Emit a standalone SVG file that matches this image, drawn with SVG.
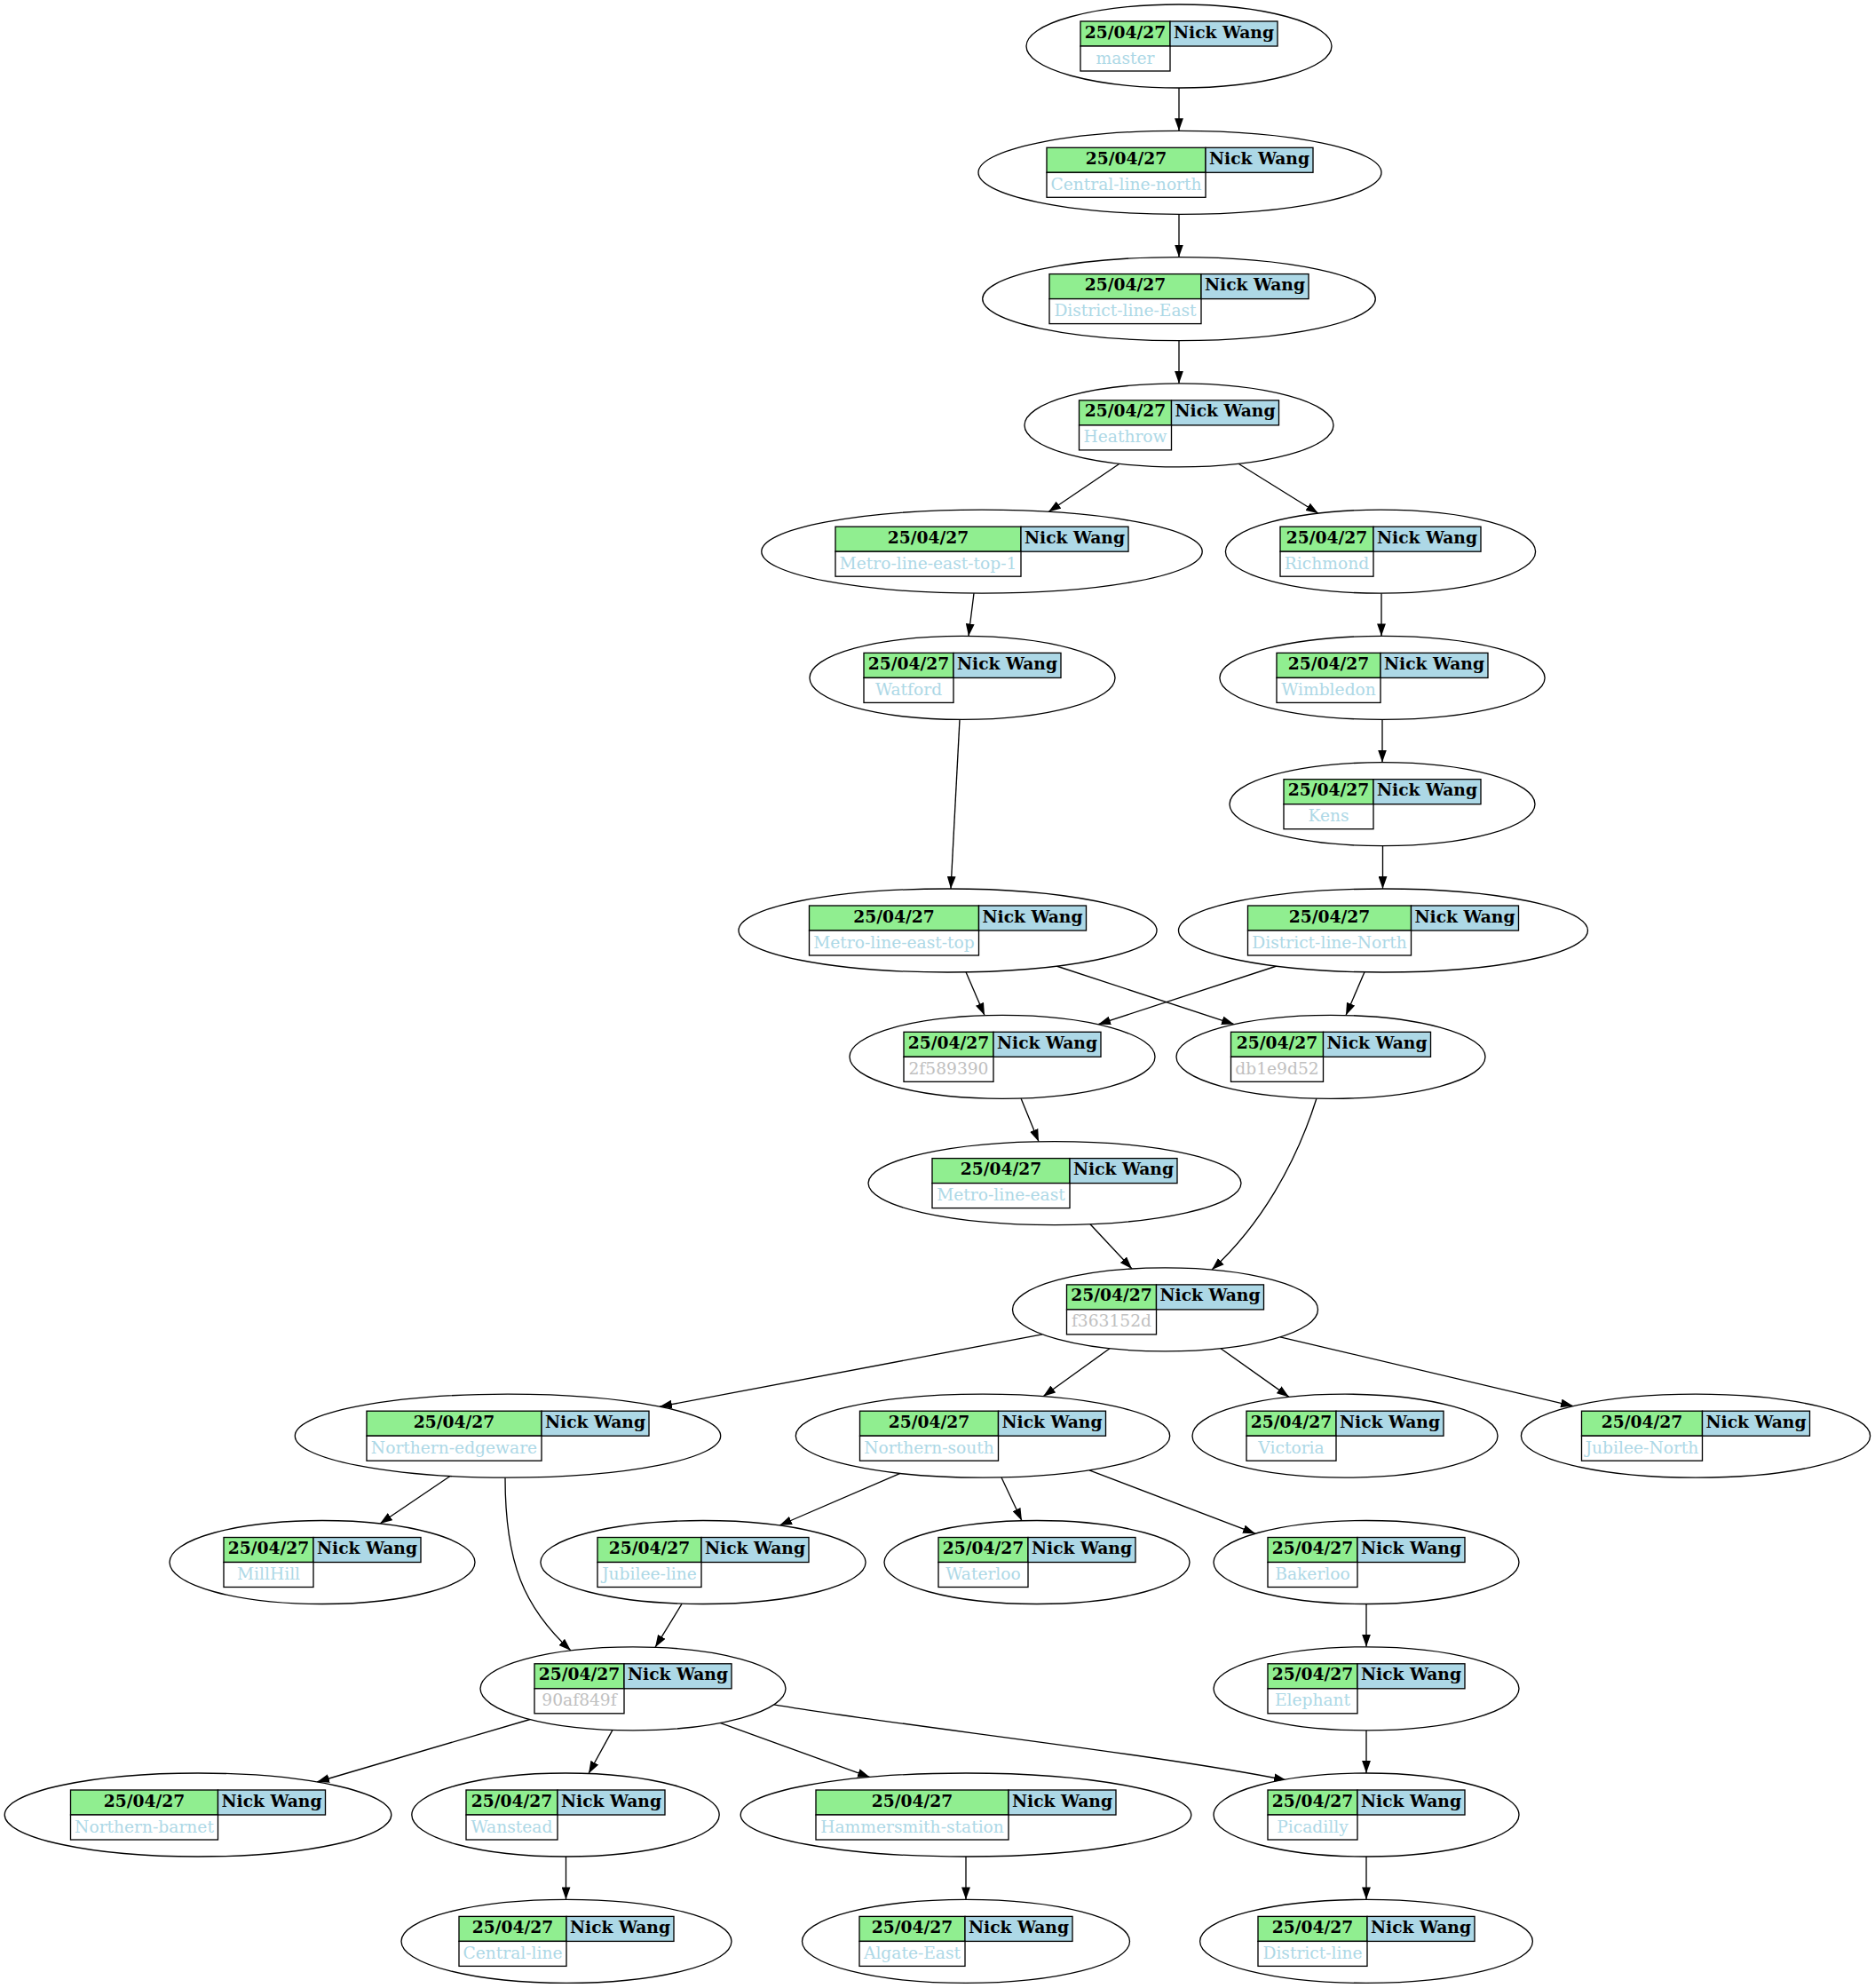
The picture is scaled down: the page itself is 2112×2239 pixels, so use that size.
<svg xmlns="http://www.w3.org/2000/svg" width="2112" height="2239" viewBox="0 0 2112 2239">
<style>
.e{fill:#fff;stroke:#000;stroke-width:1.33}
.cd{fill:#90ee90;stroke:#000;stroke-width:1.33}
.cn{fill:#add8e6;stroke:#000;stroke-width:1.33}
.cl{fill:#fff;stroke:#000;stroke-width:1.33}
text{font-family:"DejaVu Serif","Liberation Serif",serif;font-size:18.67px;text-anchor:middle}
.h{font-weight:bold;fill:#000}
.b{fill:#add8e6}
.g{fill:#c0c0c0}
.ed{fill:none;stroke:#000;stroke-width:1.33;marker-end:url(#a)}
</style>
<defs>
<marker id="a" markerUnits="userSpaceOnUse" markerWidth="14" markerHeight="10" refX="13.3" refY="4.67" orient="auto" viewBox="0 0 13.3 9.34"><path d="M0,0 L13.3,4.67 L0,9.34 z" fill="#000"/></marker>
</defs>
<rect width="2112" height="2239" fill="#fff"/>
<g id="edges">
<path class="ed" d="M1328,99 L1328,147.3"/>
<path class="ed" d="M1328,241.3 L1328,289.6"/>
<path class="ed" d="M1328,383.6 L1328,431.9"/>
<path class="ed" d="M1261,522.3 L1181,576.5"/>
<path class="ed" d="M1395,522.3 L1485,578.2"/>
<path class="ed" d="M1097,668 L1091,716.5"/>
<path class="ed" d="M1556,668.2 L1556,716.4"/>
<path class="ed" d="M1081,810.4 L1071,1001"/>
<path class="ed" d="M1557,810.4 L1557,858.7"/>
<path class="ed" d="M1557.5,952.7 L1557.5,1001"/>
<path class="ed" d="M1088,1094.8 L1109,1143.6"/>
<path class="ed" d="M1190,1088 L1390,1153.6"/>
<path class="ed" d="M1438,1088 L1237,1153.7"/>
<path class="ed" d="M1537,1094.8 L1516,1143.5"/>
<path class="ed" d="M1150,1237 L1170,1285.8"/>
<path class="ed" d="M1228,1378.7 L1275,1429"/>
<path class="ed" d="M1483,1237 C1460,1310 1420,1380 1365,1430.1"/>
<path class="ed" d="M1174,1502.8 L743,1584.2"/>
<path class="ed" d="M1250,1518.7 L1175,1572.7"/>
<path class="ed" d="M1375,1518.7 L1452,1573.4"/>
<path class="ed" d="M1442,1505.8 L1772,1583.6"/>
<path class="ed" d="M507,1662.5 L428,1716"/>
<path class="ed" d="M569,1664.2 C569,1760 590,1810 643,1858.9"/>
<path class="ed" d="M1014,1659.4 L878,1718"/>
<path class="ed" d="M1128,1664 L1151,1712.7"/>
<path class="ed" d="M1227,1655.8 L1414,1727.2"/>
<path class="ed" d="M1539,1806.5 L1539,1854.8"/>
<path class="ed" d="M768,1806.4 L738,1855.3"/>
<path class="ed" d="M597,1936.5 L357,2007"/>
<path class="ed" d="M690,1948.4 L663,1997.5"/>
<path class="ed" d="M811,1940.4 L980,2001.7"/>
<path class="ed" d="M872,1919.8 C1000,1942 1300,1975 1449,2005"/>
<path class="ed" d="M1539,1948.8 L1539,1997"/>
<path class="ed" d="M637.5,2091 L637.5,2139.4"/>
<path class="ed" d="M1088,2091 L1088,2139.4"/>
<path class="ed" d="M1539,2091 L1539,2139.4"/>
</g>
<g id="master"><ellipse class="e" cx="1328" cy="52" rx="172" ry="47"/><rect class="cd" x="1217" y="24" width="101" height="28"/><rect class="cn" x="1318" y="24" width="121" height="28"/><rect class="cl" x="1217" y="52" width="101" height="28"/><text class="h" x="1267.5" y="42.5">25/04/27</text><text class="h" x="1378.5" y="42.5">Nick Wang</text><text class="b" x="1267.5" y="71.5">master</text></g>
<g id="central-line-north"><ellipse class="e" cx="1329" cy="194.3" rx="227" ry="47"/><rect class="cd" x="1179" y="166.3" width="179" height="28"/><rect class="cn" x="1358" y="166.3" width="121" height="28"/><rect class="cl" x="1179" y="194.3" width="179" height="28"/><text class="h" x="1268.5" y="184.8">25/04/27</text><text class="h" x="1418.5" y="184.8">Nick Wang</text><text class="b" x="1268.5" y="213.8">Central-line-north</text></g>
<g id="district-line-east"><ellipse class="e" cx="1328" cy="336.6" rx="221.3" ry="47"/><rect class="cd" x="1182" y="308.6" width="171" height="28"/><rect class="cn" x="1353" y="308.6" width="121" height="28"/><rect class="cl" x="1182" y="336.6" width="171" height="28"/><text class="h" x="1267.5" y="327.1">25/04/27</text><text class="h" x="1413.5" y="327.1">Nick Wang</text><text class="b" x="1267.5" y="356.1">District-line-East</text></g>
<g id="heathrow"><ellipse class="e" cx="1328" cy="478.9" rx="174" ry="47"/><rect class="cd" x="1215.5" y="450.9" width="104" height="28"/><rect class="cn" x="1319.5" y="450.9" width="121" height="28"/><rect class="cl" x="1215.5" y="478.9" width="104" height="28"/><text class="h" x="1267.5" y="469.4">25/04/27</text><text class="h" x="1380" y="469.4">Nick Wang</text><text class="b" x="1267.5" y="498.4">Heathrow</text></g>
<g id="metro-line-east-top-1"><ellipse class="e" cx="1106" cy="621.2" rx="248.2" ry="47"/><rect class="cd" x="941" y="593.2" width="209" height="28"/><rect class="cn" x="1150" y="593.2" width="121" height="28"/><rect class="cl" x="941" y="621.2" width="209" height="28"/><text class="h" x="1045.5" y="611.7">25/04/27</text><text class="h" x="1210.5" y="611.7">Nick Wang</text><text class="b" x="1045.5" y="640.7">Metro-line-east-top-1</text></g>
<g id="richmond"><ellipse class="e" cx="1555" cy="621.2" rx="174.6" ry="47"/><rect class="cd" x="1442" y="593.2" width="105" height="28"/><rect class="cn" x="1547" y="593.2" width="121" height="28"/><rect class="cl" x="1442" y="621.2" width="105" height="28"/><text class="h" x="1494.5" y="611.7">25/04/27</text><text class="h" x="1607.5" y="611.7">Nick Wang</text><text class="b" x="1494.5" y="640.7">Richmond</text></g>
<g id="watford"><ellipse class="e" cx="1084" cy="763.4" rx="172" ry="47"/><rect class="cd" x="973" y="735.4" width="101" height="28"/><rect class="cn" x="1074" y="735.4" width="121" height="28"/><rect class="cl" x="973" y="763.4" width="101" height="28"/><text class="h" x="1023.5" y="753.9">25/04/27</text><text class="h" x="1134.5" y="753.9">Nick Wang</text><text class="b" x="1023.5" y="782.9">Watford</text></g>
<g id="wimbledon"><ellipse class="e" cx="1557" cy="763.4" rx="183.1" ry="47"/><rect class="cd" x="1438" y="735.4" width="117" height="28"/><rect class="cn" x="1555" y="735.4" width="121" height="28"/><rect class="cl" x="1438" y="763.4" width="117" height="28"/><text class="h" x="1496.5" y="753.9">25/04/27</text><text class="h" x="1615.5" y="753.9">Nick Wang</text><text class="b" x="1496.5" y="782.9">Wimbledon</text></g>
<g id="kens"><ellipse class="e" cx="1557" cy="905.7" rx="172" ry="47"/><rect class="cd" x="1446" y="877.7" width="101" height="28"/><rect class="cn" x="1547" y="877.7" width="121" height="28"/><rect class="cl" x="1446" y="905.7" width="101" height="28"/><text class="h" x="1496.5" y="896.2">25/04/27</text><text class="h" x="1607.5" y="896.2">Nick Wang</text><text class="b" x="1496.5" y="925.2">Kens</text></g>
<g id="metro-line-east-top"><ellipse class="e" cx="1067.5" cy="1048" rx="235.5" ry="47"/><rect class="cd" x="911.5" y="1020" width="191" height="28"/><rect class="cn" x="1102.5" y="1020" width="121" height="28"/><rect class="cl" x="911.5" y="1048" width="191" height="28"/><text class="h" x="1007" y="1038.5">25/04/27</text><text class="h" x="1163" y="1038.5">Nick Wang</text><text class="b" x="1007" y="1067.5">Metro-line-east-top</text></g>
<g id="district-line-north"><ellipse class="e" cx="1558" cy="1048" rx="230.5" ry="47"/><rect class="cd" x="1405.5" y="1020" width="184" height="28"/><rect class="cn" x="1589.5" y="1020" width="121" height="28"/><rect class="cl" x="1405.5" y="1048" width="184" height="28"/><text class="h" x="1497.5" y="1038.5">25/04/27</text><text class="h" x="1650" y="1038.5">Nick Wang</text><text class="b" x="1497.5" y="1067.5">District-line-North</text></g>
<g id="c2f589390"><ellipse class="e" cx="1129" cy="1190.3" rx="172" ry="47"/><rect class="cd" x="1018" y="1162.3" width="101" height="28"/><rect class="cn" x="1119" y="1162.3" width="121" height="28"/><rect class="cl" x="1018" y="1190.3" width="101" height="28"/><text class="h" x="1068.5" y="1180.8">25/04/27</text><text class="h" x="1179.5" y="1180.8">Nick Wang</text><text class="g" x="1068.5" y="1209.8">2f589390</text></g>
<g id="db1e9d52"><ellipse class="e" cx="1499" cy="1190.3" rx="174" ry="47"/><rect class="cd" x="1386.5" y="1162.3" width="104" height="28"/><rect class="cn" x="1490.5" y="1162.3" width="121" height="28"/><rect class="cl" x="1386.5" y="1190.3" width="104" height="28"/><text class="h" x="1438.5" y="1180.8">25/04/27</text><text class="h" x="1551" y="1180.8">Nick Wang</text><text class="g" x="1438.5" y="1209.8">db1e9d52</text></g>
<g id="metro-line-east"><ellipse class="e" cx="1188" cy="1332.6" rx="210" ry="47"/><rect class="cd" x="1050" y="1304.6" width="155" height="28"/><rect class="cn" x="1205" y="1304.6" width="121" height="28"/><rect class="cl" x="1050" y="1332.6" width="155" height="28"/><text class="h" x="1127.5" y="1323.1">25/04/27</text><text class="h" x="1265.5" y="1323.1">Nick Wang</text><text class="b" x="1127.5" y="1352.1">Metro-line-east</text></g>
<g id="f363152d"><ellipse class="e" cx="1312.5" cy="1474.9" rx="172" ry="47"/><rect class="cd" x="1201.5" y="1446.9" width="101" height="28"/><rect class="cn" x="1302.5" y="1446.9" width="121" height="28"/><rect class="cl" x="1201.5" y="1474.9" width="101" height="28"/><text class="h" x="1252" y="1465.4">25/04/27</text><text class="h" x="1363" y="1465.4">Nick Wang</text><text class="g" x="1252" y="1494.4">f363152d</text></g>
<g id="northern-edgeware"><ellipse class="e" cx="572" cy="1617.2" rx="239.7" ry="47"/><rect class="cd" x="413" y="1589.2" width="197" height="28"/><rect class="cn" x="610" y="1589.2" width="121" height="28"/><rect class="cl" x="413" y="1617.2" width="197" height="28"/><text class="h" x="511.5" y="1607.7">25/04/27</text><text class="h" x="670.5" y="1607.7">Nick Wang</text><text class="b" x="511.5" y="1636.7">Northern-edgeware</text></g>
<g id="northern-south"><ellipse class="e" cx="1107" cy="1617.2" rx="210.7" ry="47"/><rect class="cd" x="968.5" y="1589.2" width="156" height="28"/><rect class="cn" x="1124.5" y="1589.2" width="121" height="28"/><rect class="cl" x="968.5" y="1617.2" width="156" height="28"/><text class="h" x="1046.5" y="1607.7">25/04/27</text><text class="h" x="1185" y="1607.7">Nick Wang</text><text class="b" x="1046.5" y="1636.7">Northern-south</text></g>
<g id="victoria"><ellipse class="e" cx="1515" cy="1617.2" rx="172" ry="47"/><rect class="cd" x="1404" y="1589.2" width="101" height="28"/><rect class="cn" x="1505" y="1589.2" width="121" height="28"/><rect class="cl" x="1404" y="1617.2" width="101" height="28"/><text class="h" x="1454.5" y="1607.7">25/04/27</text><text class="h" x="1565.5" y="1607.7">Nick Wang</text><text class="b" x="1454.5" y="1636.7">Victoria</text></g>
<g id="jubilee-north"><ellipse class="e" cx="1910" cy="1617.2" rx="196.6" ry="47"/><rect class="cd" x="1781.5" y="1589.2" width="136" height="28"/><rect class="cn" x="1917.5" y="1589.2" width="121" height="28"/><rect class="cl" x="1781.5" y="1617.2" width="136" height="28"/><text class="h" x="1849.5" y="1607.7">25/04/27</text><text class="h" x="1978" y="1607.7">Nick Wang</text><text class="b" x="1849.5" y="1636.7">Jubilee-North</text></g>
<g id="millhill"><ellipse class="e" cx="363" cy="1759.5" rx="172" ry="47"/><rect class="cd" x="252" y="1731.5" width="101" height="28"/><rect class="cn" x="353" y="1731.5" width="121" height="28"/><rect class="cl" x="252" y="1759.5" width="101" height="28"/><text class="h" x="302.5" y="1750">25/04/27</text><text class="h" x="413.5" y="1750">Nick Wang</text><text class="b" x="302.5" y="1779">MillHill</text></g>
<g id="jubilee-line"><ellipse class="e" cx="792" cy="1759.5" rx="183.1" ry="47"/><rect class="cd" x="673" y="1731.5" width="117" height="28"/><rect class="cn" x="790" y="1731.5" width="121" height="28"/><rect class="cl" x="673" y="1759.5" width="117" height="28"/><text class="h" x="731.5" y="1750">25/04/27</text><text class="h" x="850.5" y="1750">Nick Wang</text><text class="b" x="731.5" y="1779">Jubilee-line</text></g>
<g id="waterloo"><ellipse class="e" cx="1168" cy="1759.5" rx="172" ry="47"/><rect class="cd" x="1057" y="1731.5" width="101" height="28"/><rect class="cn" x="1158" y="1731.5" width="121" height="28"/><rect class="cl" x="1057" y="1759.5" width="101" height="28"/><text class="h" x="1107.5" y="1750">25/04/27</text><text class="h" x="1218.5" y="1750">Nick Wang</text><text class="b" x="1107.5" y="1779">Waterloo</text></g>
<g id="bakerloo"><ellipse class="e" cx="1539" cy="1759.5" rx="172" ry="47"/><rect class="cd" x="1428" y="1731.5" width="101" height="28"/><rect class="cn" x="1529" y="1731.5" width="121" height="28"/><rect class="cl" x="1428" y="1759.5" width="101" height="28"/><text class="h" x="1478.5" y="1750">25/04/27</text><text class="h" x="1589.5" y="1750">Nick Wang</text><text class="b" x="1478.5" y="1779">Bakerloo</text></g>
<g id="c90af849f"><ellipse class="e" cx="713" cy="1901.8" rx="172" ry="47"/><rect class="cd" x="602" y="1873.8" width="101" height="28"/><rect class="cn" x="703" y="1873.8" width="121" height="28"/><rect class="cl" x="602" y="1901.8" width="101" height="28"/><text class="h" x="652.5" y="1892.3">25/04/27</text><text class="h" x="763.5" y="1892.3">Nick Wang</text><text class="g" x="652.5" y="1921.3">90af849f</text></g>
<g id="elephant"><ellipse class="e" cx="1539" cy="1901.8" rx="172" ry="47"/><rect class="cd" x="1428" y="1873.8" width="101" height="28"/><rect class="cn" x="1529" y="1873.8" width="121" height="28"/><rect class="cl" x="1428" y="1901.8" width="101" height="28"/><text class="h" x="1478.5" y="1892.3">25/04/27</text><text class="h" x="1589.5" y="1892.3">Nick Wang</text><text class="b" x="1478.5" y="1921.3">Elephant</text></g>
<g id="northern-barnet"><ellipse class="e" cx="223" cy="2044" rx="217.8" ry="47"/><rect class="cd" x="79.5" y="2016" width="166" height="28"/><rect class="cn" x="245.5" y="2016" width="121" height="28"/><rect class="cl" x="79.5" y="2044" width="166" height="28"/><text class="h" x="162.5" y="2034.5">25/04/27</text><text class="h" x="306" y="2034.5">Nick Wang</text><text class="b" x="162.5" y="2063.5">Northern-barnet</text></g>
<g id="wanstead"><ellipse class="e" cx="637" cy="2044" rx="173.2" ry="47"/><rect class="cd" x="525" y="2016" width="103" height="28"/><rect class="cn" x="628" y="2016" width="121" height="28"/><rect class="cl" x="525" y="2044" width="103" height="28"/><text class="h" x="576.5" y="2034.5">25/04/27</text><text class="h" x="688.5" y="2034.5">Nick Wang</text><text class="b" x="576.5" y="2063.5">Wanstead</text></g>
<g id="hammersmith-station"><ellipse class="e" cx="1088" cy="2044" rx="253.8" ry="47"/><rect class="cd" x="919" y="2016" width="217" height="28"/><rect class="cn" x="1136" y="2016" width="121" height="28"/><rect class="cl" x="919" y="2044" width="217" height="28"/><text class="h" x="1027.5" y="2034.5">25/04/27</text><text class="h" x="1196.5" y="2034.5">Nick Wang</text><text class="b" x="1027.5" y="2063.5">Hammersmith-station</text></g>
<g id="picadilly"><ellipse class="e" cx="1539" cy="2044" rx="172" ry="47"/><rect class="cd" x="1428" y="2016" width="101" height="28"/><rect class="cn" x="1529" y="2016" width="121" height="28"/><rect class="cl" x="1428" y="2044" width="101" height="28"/><text class="h" x="1478.5" y="2034.5">25/04/27</text><text class="h" x="1589.5" y="2034.5">Nick Wang</text><text class="b" x="1478.5" y="2063.5">Picadilly</text></g>
<g id="central-line"><ellipse class="e" cx="638" cy="2186.4" rx="186" ry="47"/><rect class="cd" x="517" y="2158.4" width="121" height="28"/><rect class="cn" x="638" y="2158.4" width="121" height="28"/><rect class="cl" x="517" y="2186.4" width="121" height="28"/><text class="h" x="577.5" y="2176.9">25/04/27</text><text class="h" x="698.5" y="2176.9">Nick Wang</text><text class="b" x="577.5" y="2205.9">Central-line</text></g>
<g id="algate-east"><ellipse class="e" cx="1088" cy="2186.4" rx="184.5" ry="47"/><rect class="cd" x="968" y="2158.4" width="119" height="28"/><rect class="cn" x="1087" y="2158.4" width="121" height="28"/><rect class="cl" x="968" y="2186.4" width="119" height="28"/><text class="h" x="1027.5" y="2176.9">25/04/27</text><text class="h" x="1147.5" y="2176.9">Nick Wang</text><text class="b" x="1027.5" y="2205.9">Algate-East</text></g>
<g id="district-line"><ellipse class="e" cx="1539" cy="2186.4" rx="187.4" ry="47"/><rect class="cd" x="1417" y="2158.4" width="123" height="28"/><rect class="cn" x="1540" y="2158.4" width="121" height="28"/><rect class="cl" x="1417" y="2186.4" width="123" height="28"/><text class="h" x="1478.5" y="2176.9">25/04/27</text><text class="h" x="1600.5" y="2176.9">Nick Wang</text><text class="b" x="1478.5" y="2205.9">District-line</text></g>
</svg>
